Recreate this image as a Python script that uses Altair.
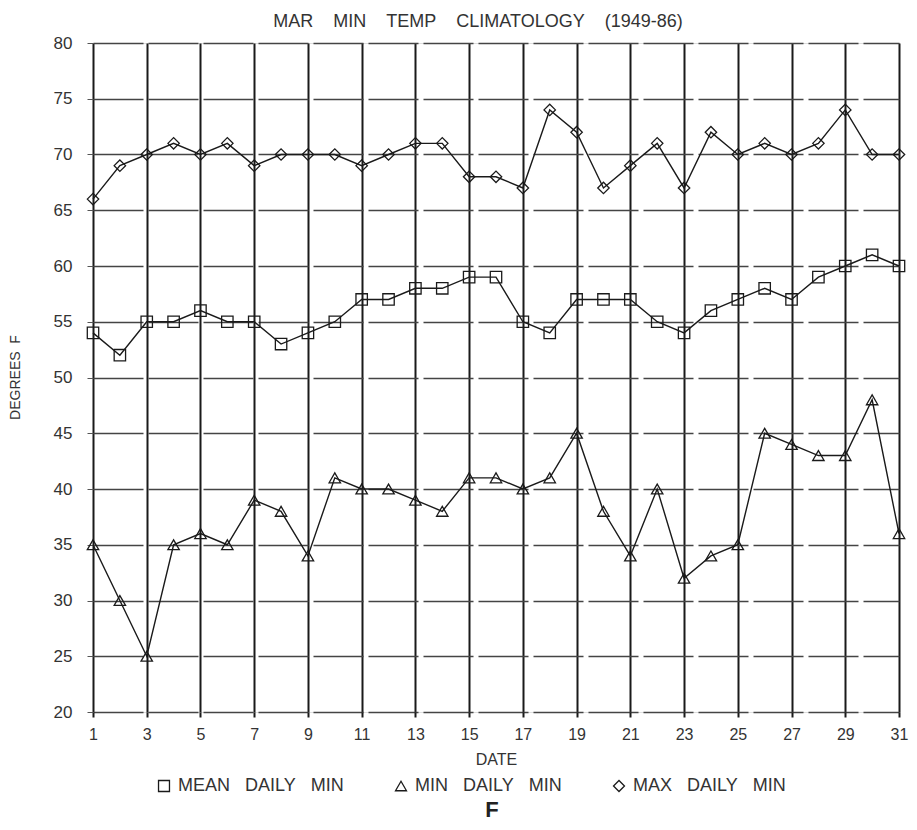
import altair as alt
import pandas as pd

days = list(range(1, 32))
mean_daily_min = [54, 52, 55, 55, 56, 55, 55, 53, 54, 55, 57, 57, 58, 58, 59, 59,
                  55, 54, 57, 57, 57, 55, 54, 56, 57, 58, 57, 59, 60, 61, 60]
min_daily_min = [35, 30, 25, 35, 36, 35, 39, 38, 34, 41, 40, 40, 39, 38, 41, 41,
                 40, 41, 45, 38, 34, 40, 32, 34, 35, 45, 44, 43, 43, 48, 36]
max_daily_min = [66, 69, 70, 71, 70, 71, 69, 70, 70, 70, 69, 70, 71, 71, 68, 68,
                 67, 74, 72, 67, 69, 71, 67, 72, 70, 71, 70, 71, 74, 70, 70]

NB = "\u00a0"
S3 = NB * 3
series_names = [f"MEAN{S3}DAILY{S3}MIN", f"MIN{S3}DAILY{S3}MIN", f"MAX{S3}DAILY{S3}MIN"]
series_values = [mean_daily_min, min_daily_min, max_daily_min]
series_shapes = ["square", "triangle-up", "diamond"]
x_ticks = list(range(1, 32, 2))
y_ticks = list(range(20, 81, 5))

S4 = NB * 4
title_text = f"MAR{S4}MIN{S4}TEMP{S4}CLIMATOLOGY{S4}(1949-86)"
footer_text = ["F"]

rows = []
for name, vals in zip(series_names, series_values):
    for d, v in zip(days, vals):
        rows.append({"day": d, "temp": v, "series": name})
df = pd.DataFrame(rows)

FONT = "Liberation Sans"
INK = "#1a1a1a"

x_enc = alt.X(
    "day:Q",
    scale=alt.Scale(domain=[1, 31], nice=False, zero=False),
    axis=alt.Axis(
        values=x_ticks, title="DATE", grid=True, gridColor=INK, gridWidth=2,
        gridOpacity=1, domain=False, ticks=True, tickSize=5, tickColor=INK,
        tickWidth=2, labelFont=FONT, labelFontSize=16, labelColor="#333",
        labelPadding=9, titleFont=FONT, titleFontSize=16, titleFontWeight="normal",
        titleColor="#333", titlePadding=9, labelFlush=False,
    ),
)
y_enc = alt.Y(
    "temp:Q",
    scale=alt.Scale(domain=[20, 80], nice=False, zero=False),
    axis=alt.Axis(
        values=y_ticks, title=f"DEGREES{NB}{NB}F", grid=True, gridColor="#444",
        gridWidth=1.6, gridDash=[50, 5], gridOpacity=1, domain=False, ticks=True,
        tickSize=6, tickColor="#555", labelFont=FONT, labelFontSize=17,
        labelColor="#333", labelPadding=15, titleFont=FONT, titleFontSize=14,
        titleFontWeight="normal", titleColor="#333", titleX=-78, titleY=334,
        titleAngle=270, titleAlign="center", titleBaseline="middle",
    ),
)

base = alt.Chart(df).encode(x=x_enc, y=y_enc)

lines = base.mark_line(color=INK, strokeWidth=1.4).encode(detail="series:N")

points = base.mark_point(
    filled=False, color=INK, strokeWidth=1.3, opacity=1, size=130
).encode(
    shape=alt.Shape(
        "series:N",
        scale=alt.Scale(domain=series_names, range=series_shapes),
        legend=alt.Legend(
            title=None, orient="none", legendX=62, legendY=734,
            direction="horizontal", labelFont=FONT, labelFontSize=18,
            labelColor="#333", labelLimit=400, symbolSize=120,
            symbolStrokeWidth=1.3, symbolOpacity=1, columnPadding=48,
            labelOffset=5,
        ),
    )
)

footer = alt.Chart(pd.DataFrame({"t": footer_text})).mark_text(
    font=FONT, fontSize=22, fontWeight="bold", color="#222",
    align="center", baseline="alphabetic",
).encode(text="t:N", x=alt.value(399), y=alt.value(774))

chart = alt.layer(lines, points, footer).properties(
    width=806, height=669,
    title=alt.TitleParams(title_text, font=FONT, fontSize=18, fontWeight="normal",
                          color="#333", anchor="middle", offset=3, dx=-18),
    autosize=alt.AutoSizeParams(type="none"),
    padding={"left": 85, "top": 35, "right": 10, "bottom": 110},
).configure_view(strokeWidth=0).configure(background="white")

chart.save("out.html", embed_options={"renderer": "svg", "actions": False})
